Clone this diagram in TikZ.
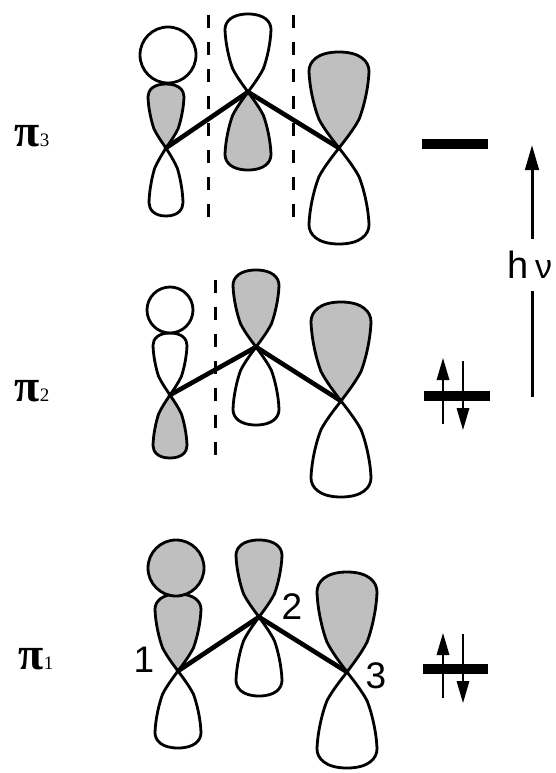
\documentclass[tikz,border=0pt]{standalone}
\usepackage{fontspec}
\setmainfont{Liberation Sans}
\newfontfamily\serifgr{Liberation Serif}
\usetikzlibrary{arrows.meta}
\definecolor{lobegray}{RGB}{191,191,191}
\newcommand{\lobe}[4]{% atom, half width, height (signed: + up), fill
  \begin{scope}[shift={(#1)},xscale=#2,yscale=-#3]
    \draw[lobeline,fill=#4] (0,0) .. controls (-.25,.1) and (-.5,.2) .. (-.67,.3)
      .. controls (-.82,.42) and (-.98,.62) .. (-1,.8)
      .. controls (-1,.9) and (-.72,1) .. (0,1)
      .. controls (.72,1) and (1,.9) .. (1,.8)
      .. controls (.98,.62) and (.82,.42) .. (.67,.3)
      .. controls (.5,.2) and (.25,.1) .. (0,0) -- cycle;
  \end{scope}}
\tikzset{
  lobeline/.style={line width=2.8pt,line join=round},
  bond/.style={line width=4.6pt,line cap=round},
  node line/.style={line width=3pt,dash pattern=on 13pt off 14pt},
  level/.style={line width=9.5pt},
  electron/.style={line width=1.6pt,-{Triangle[length=22pt,width=12.5pt]}},
  pump/.style={line width=3pt},
  mo/.style={inner sep=0pt,font=\fontsize{46}{46}\selectfont\serifgr},
  num/.style={inner sep=0pt,font=\fontsize{37}{37}\selectfont},
}
\newcommand{\molabel}[3]{\node[mo] (#1) at (#2) {\textbf{π}\raisebox{0pt}{\fontsize{19}{19}\selectfont #3}};}
\begin{document}
\begin{tikzpicture}[x=1pt,y=-1pt]
\useasboundingbox (0,0) rectangle (556,773);
% pi3
\coordinate (a3) at (166,148); \coordinate (b3) at (248,92); \coordinate (c3) at (339,148);
\lobe{a3}{18}{64}{lobegray}
\lobe{a3}{17}{-68}{white}
\lobe{b3}{23}{78}{white}
\lobe{b3}{23}{-78}{lobegray}
\lobe{c3}{30}{96}{lobegray}
\lobe{c3}{30}{-96}{white}
\node[circle,draw,lobeline,fill=white,minimum size=56pt,inner sep=0pt] (s3) at (168,55) {};
\draw[bond] (a3) -- (b3) -- (c3);
\coordinate (d3at) at (208,15); \coordinate (d3ab) at (208,222);
\coordinate (d3bt) at (293,15); \coordinate (d3bb) at (293,226);
\draw[node line] (d3at) -- (d3ab);
\draw[node line] (d3bt) -- (d3bb);
% pi2
\coordinate (a2) at (170,395); \coordinate (b2) at (256,347); \coordinate (c2) at (341,401);
\lobe{a2}{17}{62}{white}
\lobe{a2}{17}{-63}{lobegray}
\lobe{b2}{23}{77}{lobegray}
\lobe{b2}{23}{-78}{white}
\lobe{c2}{30}{99}{lobegray}
\lobe{c2}{30}{-96}{white}
\node[circle,draw,lobeline,fill=white,minimum size=46pt,inner sep=0pt] (s2) at (170,310) {};
\draw[bond] (a2) -- (b2) -- (c2);
\coordinate (d2t) at (215,280); \coordinate (d2b) at (215,466);
\draw[node line] (d2t) -- (d2b);
% pi1
\coordinate (a1) at (178,671); \coordinate (b1) at (259,617); \coordinate (c1) at (347,672);
\lobe{a1}{23}{77}{lobegray}
\lobe{a1}{23}{-77}{white}
\lobe{b1}{23}{77}{lobegray}
\lobe{b1}{23}{-79}{white}
\lobe{c1}{30}{100}{lobegray}
\lobe{c1}{30}{-96}{white}
\node[circle,draw,lobeline,fill=lobegray,minimum size=56pt,inner sep=0pt] (s1) at (176,568) {};
\draw[bond] (a1) -- (b1) -- (c1);
\node[num] (n1) at (144,660) {1};
\node[num] (n2) at (292,607) {2};
\node[num] (n3) at (376,676) {3};
% labels
\molabel{l3}{32,136}{3}
\molabel{l2}{32,391}{2}
\molabel{l1}{36,659}{1}
% levels
\coordinate (e3l) at (422,144); \coordinate (e3r) at (488,144);
\coordinate (e2l) at (424,396); \coordinate (e2r) at (490,396);
\coordinate (e1l) at (423,669); \coordinate (e1r) at (488,669);
\draw[level] (e3l) -- (e3r);
\draw[level] (e2l) -- (e2r);
\draw[level] (e1l) -- (e1r);
% electrons
\coordinate (u2a) at (443,424); \coordinate (u2b) at (443,358);
\coordinate (d2a) at (463,361); \coordinate (d2b2) at (463,430);
\coordinate (u1a) at (443,698); \coordinate (u1b) at (443,633);
\coordinate (d1a) at (463,634); \coordinate (d1b) at (463,703);
\draw[electron] (u2a) -- (u2b);
\draw[electron] (d2a) -- (d2b2);
\draw[electron] (u1a) -- (u1b);
\draw[electron] (d1a) -- (d1b);
% photon
\node[inner sep=0pt,font=\fontsize{38}{38}\selectfont] (hv) at (530,265) {h\,{\fontsize{34}{34}\selectfont ν}};
\coordinate (pb) at (532,397); \coordinate (pm) at (532,291);
\coordinate (pn) at (532,239); \coordinate (pt) at (532,145);
\draw[pump] (pb) -- (pm);
\draw[pump,-{Triangle[length=25pt,width=13.5pt]}] (pn) -- (pt);
\end{tikzpicture}
\end{document}
